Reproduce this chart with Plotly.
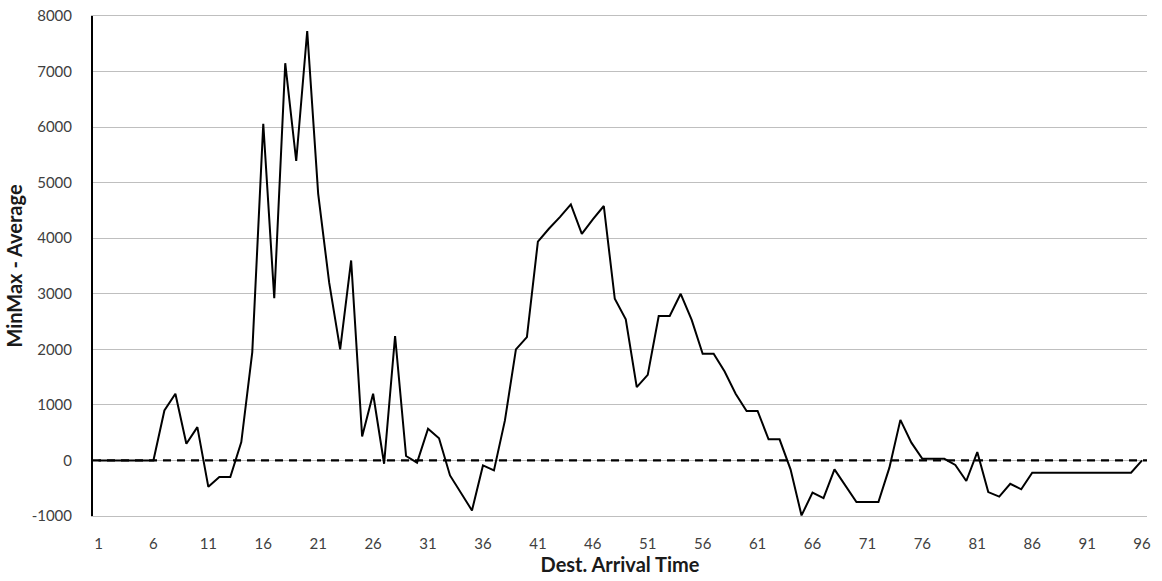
import plotly.graph_objects as go

# Destination arrival time slots 1..96
arrival_time = list(range(1, 97))

# MinMax minus Average per arrival time slot
minmax_minus_avg = [
    0, 0, 0, 0, 0, 0, 900, 1200, 300, 600,
    -475, -300, -300, 330, 1950, 6060, 2920, 7150, 5390, 7730,
    4800, 3200, 2000, 3600, 430, 1200, -60, 2240, 80, -40,
    570, 400, -270, -590, -900, -90, -180, 720, 2000, 2220,
    3940, 4170, 4380, 4610, 4080, 4340, 4580, 2910, 2540, 1320,
    1540, 2600, 2600, 3000, 2530, 1920, 1920, 1600, 1200, 890,
    890, 380, 380, -160, -990, -580, -680, -160, -450, -750,
    -750, -750, -130, 730, 320, 30, 30, 30, -80, -370,
    150, -570, -650, -420, -520, -220, -220, -220, -220, -220,
    -220, -220, -220, -220, -220, 0,
]

x_ticks = list(range(1, 97, 5))
y_ticks = list(range(-1000, 8001, 1000))

label_font = dict(family="Lato, 'Open Sans', sans-serif", size=15, color="#404040")
title_font = dict(family="Lato, 'Open Sans', sans-serif", size=20, color="#1a1a1a")

fig = go.Figure()

fig.add_trace(go.Scatter(
    x=arrival_time,
    y=minmax_minus_avg,
    mode="lines",
    line=dict(color="#000000", width=2),
    showlegend=False,
))

# Dashed horizontal axis crossing at zero
fig.add_shape(
    type="line", xref="paper", yref="y",
    x0=0, x1=1, y0=0, y1=0,
    line=dict(color="#000000", width=2.2, dash="8px,6px"),
    layer="above",
)

fig.update_layout(
    width=1162, height=581,
    margin=dict(l=93, r=15, t=16, b=65),
    paper_bgcolor="#ffffff",
    plot_bgcolor="#ffffff",
    xaxis=dict(
        range=[0.5, 96.45],
        tickmode="array",
        tickvals=x_ticks,
        ticktext=[str(v) for v in x_ticks],
        tickfont=label_font,
        showgrid=False,
        zeroline=False,
        showline=True,
        mirror=True,
        linecolor="#bfbfbf",
        linewidth=1,
        ticks="",
        ticklabelstandoff=14,
        automargin=False,
        title=dict(text="<b>Dest. Arrival Time</b>", font=title_font, standoff=5),
    ),
    yaxis=dict(
        range=[-1000, 8000],
        tickmode="array",
        tickvals=y_ticks,
        ticktext=[str(v) for v in y_ticks],
        tickfont=label_font,
        showgrid=True,
        gridcolor="#bfbfbf",
        gridwidth=1,
        zeroline=False,
        showline=True,
        linecolor="#000000",
        linewidth=2,
        ticks="",
        ticklabelstandoff=16,
        automargin=False,
        title=dict(text="<b>MinMax - Average</b>", font=title_font, standoff=4),
    ),
)

fig.write_html("out.html")
